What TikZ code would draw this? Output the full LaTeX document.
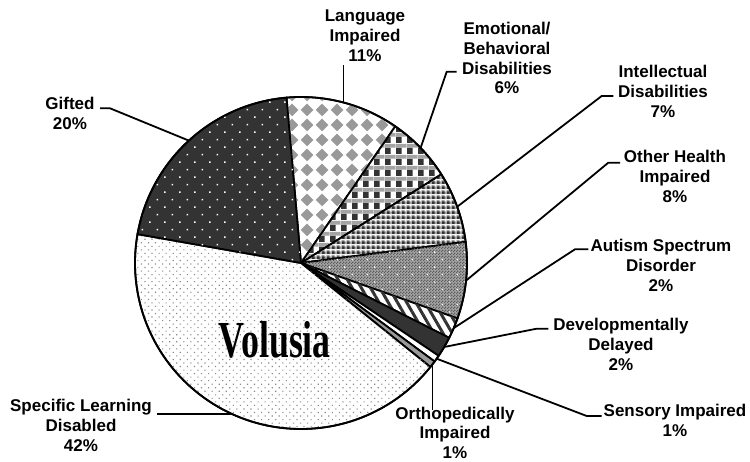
\documentclass[tikz,border=0pt]{standalone}
\usepackage{xcolor}
\usepackage{graphicx}
\usepackage{fontspec}
\setmainfont{Liberation Sans}
\newfontfamily\volfont{Liberation Serif}
\usepackage{tikz}
\usetikzlibrary{patterns,patterns.meta}

\definecolor{darkfill}{HTML}{333333}
\definecolor{midgray}{HTML}{999999}
\definecolor{bandgray}{HTML}{A4A4A4}
\definecolor{dotgray}{HTML}{8A8A8A}

% gray diamonds (Language)
\pgfdeclarepatternformonly{diamondgrid}{\pgfpointorigin}{\pgfpoint{15pt}{15pt}}{\pgfpoint{15pt}{15pt}}{
  \pgfpathmoveto{\pgfpoint{7.5pt}{0.8pt}}
  \pgfpathlineto{\pgfpoint{14.2pt}{7.5pt}}
  \pgfpathlineto{\pgfpoint{7.5pt}{14.2pt}}
  \pgfpathlineto{\pgfpoint{0.8pt}{7.5pt}}
  \pgfpathclose
  \pgfusepath{fill}
}
% plaid (Emotional/Behavioral)
\pgfdeclarepatterninherentlycolored{plaid}{\pgfpointorigin}{\pgfpoint{11pt}{11pt}}{\pgfpoint{11pt}{11pt}}{
  \pgfsetfillcolor{white}
  \pgfpathrectangle{\pgfpointorigin}{\pgfpoint{11pt}{11pt}}\pgfusepath{fill}
  \pgfsetfillcolor{darkfill}
  \pgfpathrectangle{\pgfpointorigin}{\pgfpoint{6pt}{7pt}}\pgfusepath{fill}
  \pgfsetfillcolor{bandgray}
  \pgfpathrectangle{\pgfpoint{0pt}{7pt}}{\pgfpoint{11pt}{4pt}}\pgfusepath{fill}
}
% small checkerboard (Intellectual)
\pgfdeclarepatterninherentlycolored{smallchecker}{\pgfpointorigin}{\pgfpoint{4.5pt}{4.5pt}}{\pgfpoint{4.5pt}{4.5pt}}{
  \pgfsetfillcolor{bandgray}
  \pgfpathrectangle{\pgfpointorigin}{\pgfpoint{4.5pt}{4.5pt}}\pgfusepath{fill}
  \pgfsetfillcolor{darkfill}
  \pgfpathrectangle{\pgfpointorigin}{\pgfpoint{3pt}{3pt}}\pgfusepath{fill}
  \pgfsetfillcolor{white}
  \pgfpathrectangle{\pgfpoint{3pt}{3pt}}{\pgfpoint{1.5pt}{1.5pt}}\pgfusepath{fill}
}
% fine checker (Other Health)
\pgfdeclarepatternformonly{finechecker}{\pgfpointorigin}{\pgfpoint{3pt}{3pt}}{\pgfpoint{3pt}{3pt}}{
  \pgfpathrectangle{\pgfpointorigin}{\pgfpoint{1.5pt}{1.5pt}}\pgfusepath{fill}
  \pgfpathrectangle{\pgfpoint{1.5pt}{1.5pt}}{\pgfpoint{1.5pt}{1.5pt}}\pgfusepath{fill}
}

\def\rpie{166pt}
\newcommand{\pieslice}[3]{\path[draw=black, line width=1.8pt, line join=round, #3] (c) -- ++(#1:\rpie) arc[start angle=#1, end angle=#2, radius=\rpie] -- cycle;}

\tikzset{
  lbl/.style={font=\fontsize{17}{19.9}\selectfont\bfseries, align=center, anchor=north, inner sep=0pt},
  leader/.style={line width=1.8pt, line join=round},
}

\begin{document}
\begin{tikzpicture}[x=1pt,y=1pt]
\useasboundingbox (0,0) rectangle (750,462);
\coordinate (c) at (301,199);
%Slices
\pieslice{95}{55.4}{fill=white, postaction={pattern=diamondgrid, pattern color=midgray}}
\pieslice{55.4}{32.3}{pattern=plaid}
\pieslice{32.3}{7.3}{pattern=smallchecker}
\pieslice{7.3}{-19.5}{fill=bandgray, postaction={pattern=finechecker, pattern color=darkfill!80}, postaction={pattern={Dots[angle=45, distance=10.6pt, radius=0.9pt]}, pattern color=white}}
\pieslice{-19.5}{-26.8}{fill=white, postaction={pattern={Lines[angle=-60, distance=8pt, line width=3pt]}, pattern color=darkfill}}
\pieslice{-26.8}{-34}{fill=darkfill}
\pieslice{-34}{-36.4}{fill=white}
\pieslice{-36.4}{-38.8}{fill=midgray}
\pieslice{-38.8}{-190}{fill=white, postaction={pattern={Dots[angle=45, distance=5pt, radius=0.8pt]}, pattern color=dotgray}}
\pieslice{170}{95}{fill=darkfill, postaction={pattern={Dots[angle=45, distance=10.6pt, radius=1.1pt]}, pattern color=white}}
\draw[line width=1.8pt] (c) circle[radius=\rpie];

\node[anchor=base, inner sep=0pt, font=\volfont\bfseries\fontsize{52}{52}\selectfont] (vol) at (274.7,104) {\scalebox{0.69}[1]{Volusia}};

%Text
\node[lbl] (lgif) at (70,365.3) {Gifted\\20\%};
\node[lbl] (llang) at (365,452) {Language\\Impaired\\11\%};
\node[lbl] (lemo) at (507,440.3) {Emotional/\\Behavioral\\Disabilities\\6\%};
\node[lbl] (lint) at (663,397) {Intellectual\\Disabilities\\7\%};
\node[lbl] (lohi) at (675,312) {Other Health\\Impaired\\8\%};
\node[lbl] (laut) at (661,222.7) {Autism Spectrum\\Disorder\\2\%};
\node[lbl] (ldd) at (621,143.7) {Developmentally\\Delayed\\2\%};
\node[lbl] (lsen) at (675,57.7) {Sensory Impaired\\1\%};
\node[lbl] (lort) at (455,55.5) {Orthopedically\\Impaired\\1\%};
\node[lbl] (lsld) at (81,62.7) {Specific Learning\\Disabled\\42\%};

%Leaders
\coordinate (pgif) at ([shift={(132.5:\rpie)}]c);
\coordinate (plang) at ([shift={(75.2:\rpie)}]c);
\coordinate (pemo) at ([shift={(43.9:\rpie)}]c);
\coordinate (pint) at ([shift={(19.8:\rpie)}]c);
\coordinate (pohi) at ([shift={(-6.1:\rpie)}]c);
\coordinate (paut) at ([shift={(-23.1:\rpie)}]c);
\coordinate (pdd) at ([shift={(-30.4:\rpie)}]c);
\coordinate (psen) at ([shift={(-35.2:\rpie)}]c);
\coordinate (port) at ([shift={(-37.6:\rpie)}]c);
\coordinate (psld) at ([shift={(-114.4:\rpie)}]c);
\coordinate (kgif) at (100,353.7);
\coordinate (kemo) at (456.7,390.3);
\coordinate (kint) at (613.3,366);
\coordinate (kohi) at (620,299.3);
\coordinate (kaut) at (588.3,212.7);
\coordinate (kdd) at (548.3,133.3);
\coordinate (ksen) at (601.7,46);
\coordinate (ksld) at (156.7,47.8);
\draw[leader] (kgif) -- ++(10,0) -- (pgif);
\draw[leader] (plang) -- ([yshift=-3pt]plang |- llang.south);
\draw[leader] (kemo) -- ++(-10,0) -- (pemo);
\draw[leader] (kint) -- ++(-11.6,0) -- (pint);
\draw[leader] (kohi) -- ++(-11.7,0) -- (pohi);
\draw[leader] (kaut) -- ++(-13.3,0) -- (paut);
\draw[leader] (kdd) -- ++(-11.6,0) -- (pdd);
\draw[leader] (ksen) -- ++(-15,0) -- (psen);
\draw[leader] (port) -- ([yshift=-4pt]port |- lort.north);
\draw[leader] (ksld) -- (ksld -| psld);
\end{tikzpicture}
\end{document}
